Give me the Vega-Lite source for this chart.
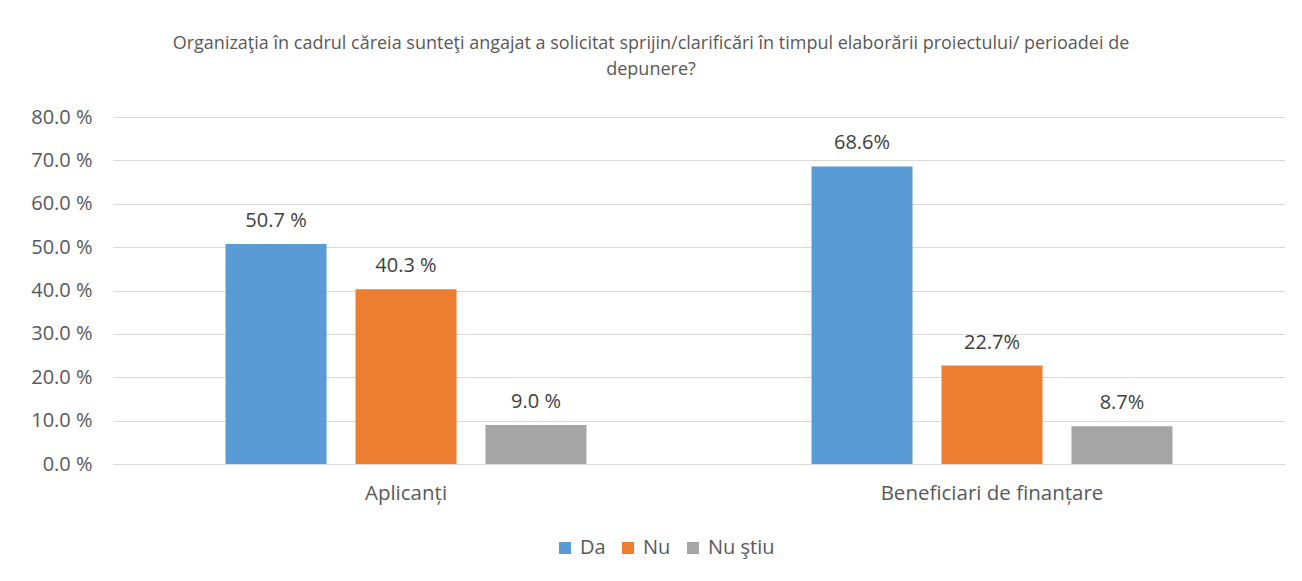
{
  "$schema": "https://vega.github.io/schema/vega-lite/v6.json",
  "autosize": {"type": "none"},
  "width": 1172,
  "height": 347,
  "padding": {"left": 113, "top": 117, "right": 17, "bottom": 117},
  "background": "white",
  "config": {
    "font": "Open Sans",
    "view": {"stroke": null},
    "axis": {"labelColor": "#595959", "labelFont": "Open Sans", "titleColor": "#595959"}
  },
  "title": {
    "text": ["Organizaţia în cadrul căreia sunteţi angajat a solicitat sprijin/clarificări în timpul elaborării proiectului/ perioadei de", "depunere?"],
    "font": "Open Sans",
    "fontSize": 18,
    "fontWeight": "normal",
    "color": "#595959",
    "anchor": "middle",
    "dx": -48,
    "offset": 28,
    "lineHeight": 26
  },
  "data": {
    "values": [
      {"grup": "Aplicanți", "raspuns": "Da", "valoare": 50.7, "eticheta": "50.7 %"},
      {"grup": "Aplicanți", "raspuns": "Nu", "valoare": 40.3, "eticheta": "40.3 %"},
      {"grup": "Aplicanți", "raspuns": "Nu ştiu", "valoare": 9.0, "eticheta": "9.0 %"},
      {"grup": "Beneficiari de finanțare", "raspuns": "Da", "valoare": 68.6, "eticheta": "68.6%"},
      {"grup": "Beneficiari de finanțare", "raspuns": "Nu", "valoare": 22.7, "eticheta": "22.7%"},
      {"grup": "Beneficiari de finanțare", "raspuns": "Nu ştiu", "valoare": 8.7, "eticheta": "8.7%"}
    ]
  },
  "encoding": {
    "x": {
      "field": "grup", "type": "nominal", "sort": null, "title": null,
      "scale": {"paddingInner": 0.384, "paddingOuter": 0.192},
      "axis": {"labelAngle": 0, "labelFontSize": 20.5, "labelLimit": 0, "domain": true, "domainColor": "#D9D9D9", "ticks": false, "labelPadding": 19}
    },
    "xOffset": {
      "field": "raspuns", "type": "nominal", "sort": ["Da", "Nu", "Nu ştiu"],
      "scale": {"paddingInner": 0.223, "paddingOuter": 0}
    },
    "y": {
      "field": "valoare", "type": "quantitative", "title": null,
      "scale": {"domain": [0, 80], "nice": false},
      "axis": {
        "values": [0, 10, 20, 30, 40, 50, 60, 70, 80],
        "labelExpr": "format(datum.value, '.1f') + ' %'",
        "labelFontSize": 20,
        "domain": false, "ticks": false, "grid": true, "gridColor": "#D9D9D9", "gridWidth": 1,
        "labelPadding": 21
      }
    }
  },
  "layer": [
    {
      "mark": {"type": "bar"},
      "encoding": {
        "color": {
          "field": "raspuns", "type": "nominal", "sort": ["Da", "Nu", "Nu ştiu"], "title": null,
          "scale": {"domain": ["Da", "Nu", "Nu ştiu"], "range": ["#5B9BD5", "#ED7D31", "#A5A5A5"]},
          "legend": {
            "orient": "none", "direction": "horizontal", "legendX": 442, "legendY": 421,
            "symbolType": "square", "symbolSize": 144, "symbolStrokeWidth": 0,
            "labelFontSize": 20, "labelColor": "#595959", "labelFont": "Open Sans",
            "columnPadding": 12, "labelOffset": 5
          }
        }
      }
    },
    {
      "mark": {"type": "text", "baseline": "bottom", "dy": -13, "fontSize": 20, "color": "#404040", "font": "Open Sans"},
      "encoding": {"text": {"field": "eticheta"}}
    }
  ]
}
